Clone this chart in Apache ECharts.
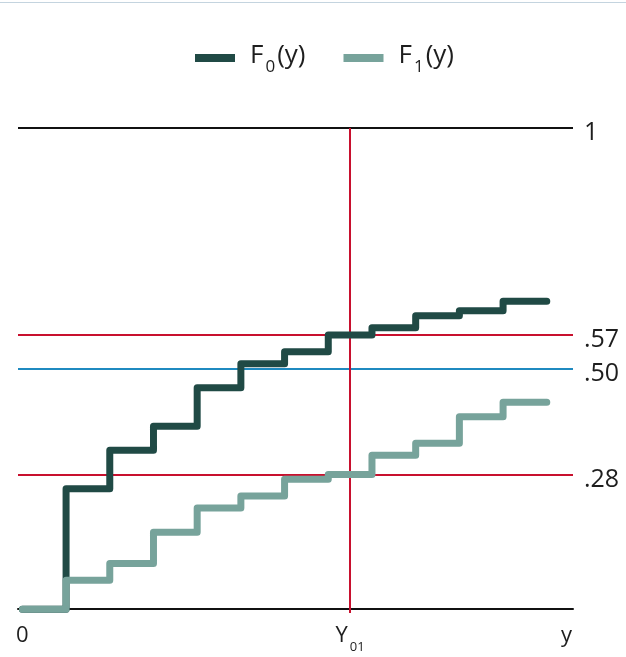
<!DOCTYPE html>
<html>
<head>
<meta charset="utf-8">
<script src="https://cdn.jsdelivr.net/npm/echarts/dist/echarts.min.js"></script>
<style>
    html, body { margin: 0; padding: 0; background: #fff; }
    #topline { position: absolute; top: 2px; left: 0; width: 626px; height: 1px; background: #c4d4df; }
    #container { width: 626px; height: 657px; }
</style>
</head>
<body>
<div id="topline"></div>
<div id="container"></div>
<script>
// step positions (y) and cumulative shares for the two distributions
var stepX = [0, 1, 2, 3, 4, 5, 6, 7, 8, 9, 10, 11, 12];
var f0Values = [0, 0.25, 0.33, 0.38, 0.46, 0.51, 0.535, 0.57, 0.585, 0.61, 0.62, 0.64, 0.64];
var f1Values = [0, 0.06, 0.095, 0.16, 0.21, 0.235, 0.27, 0.28, 0.32, 0.345, 0.40, 0.43, 0.43];

// horizontal reference levels and their labels on the right
var refLevels = [1, 0.57, 0.50, 0.28];
var refLabels = ['1', '.57', '.50', '.28'];

// Y01 marker and bottom axis labels
var y01 = 7.5;
var xLabelValues = [0, 7.5, 12.45];
var xLabelTexts = ['0', 'Y01', 'y'];

var chart = echarts.init(document.getElementById('container'));

var font = '"Open Sans", "Noto Sans", sans-serif';
var textColor = '#1e1e1e';
var refColors = { '1': '#111111', '.57': '#c8102e', '.50': '#1f8ac0', '.28': '#c8102e' };

function pairs(xs, ys) {
    var out = [];
    xs.forEach(function (x, i) {
        out.push([x, ys[i]]);
    });
    return out;
}

var refData = refLevels.map(function (v, i) {
    return {
        yAxis: v,
        lineStyle: { color: refColors[refLabels[i]], width: 2, type: 'solid' },
        label: { formatter: '{v|' + refLabels[i] + '}' }
    };
});
refData.push({
    xAxis: y01,
    lineStyle: { color: '#c8102e', width: 2, type: 'solid' },
    label: { show: false }
});

var option = {
    animation: false,
    backgroundColor: 'transparent',
    legend: {
        left: 195,
        top: 43,
        padding: 0,
        icon: 'rect',
        itemWidth: 40,
        itemHeight: 8,
        itemGap: 38,
        data: ['F0(y)', 'F1(y)'],
        formatter: function (name) {
            return '{b|F}{s|' + name.charAt(1) + '}{b|(y)}';
        },
        textStyle: {
            color: textColor,
            fontFamily: font,
            padding: [0, 0, 0, 10],
            rich: {
                b: { fontSize: 26, lineHeight: 30, fontFamily: font, color: textColor, verticalAlign: 'top' },
                s: { fontSize: 17, lineHeight: 17, fontFamily: font, color: textColor, verticalAlign: 'top', padding: [16, 2, 0, 2] }
            }
        }
    },
    grid: {
        left: 18,
        right: 53,
        top: 128,
        bottom: 44
    },
    xAxis: {
        type: 'value',
        min: -0.1,
        max: 12.6,
        axisLine: { show: true, lineStyle: { color: '#111', width: 2 } },
        axisTick: { show: false },
        splitLine: { show: false },
        axisLabel: {
            customValues: xLabelValues,
            margin: 12,
            formatter: function (value) {
                var i = xLabelValues.indexOf(value);
                var t = i >= 0 ? xLabelTexts[i] : '';
                if (t.length > 1) {
                    return '{b|' + t.charAt(0) + '}{s|' + t.slice(1) + '}';
                }
                return '{b|' + t + '}';
            },
            rich: {
                b: { fontSize: 22, lineHeight: 26, fontFamily: font, color: textColor, verticalAlign: 'top' },
                s: { fontSize: 13, lineHeight: 13, fontFamily: font, color: textColor, verticalAlign: 'top', padding: [16, 0, 0, 2] }
            }
        }
    },
    yAxis: {
        type: 'value',
        min: -0.008,
        max: 1,
        show: false
    },
    series: [{
        name: 'ref',
        type: 'line',
        data: [],
        z: 1,
        silent: true,
        markLine: {
            z: 1,
            silent: true,
            symbol: ['none', 'none'],
            label: {
                position: 'end',
                distance: 11,
                color: textColor,
                rich: {
                    v: { fontSize: 25, fontFamily: font, color: textColor, padding: [10, 0, 0, 0] }
                }
            },
            data: refData
        }
    }, {
        name: 'F0(y)',
        type: 'line',
        step: 'end',
        z: 3,
        showSymbol: false,
        color: '#204a45',
        lineStyle: { color: '#204a45', width: 7, cap: 'round', join: 'round' },
        data: pairs(stepX, f0Values)
    }, {
        name: 'F1(y)',
        type: 'line',
        step: 'end',
        z: 4,
        showSymbol: false,
        color: '#77a39b',
        lineStyle: { color: '#77a39b', width: 7, cap: 'round', join: 'round' },
        data: pairs(stepX, f1Values)
    }]
};

chart.setOption(option);
</script>
</body>
</html>
